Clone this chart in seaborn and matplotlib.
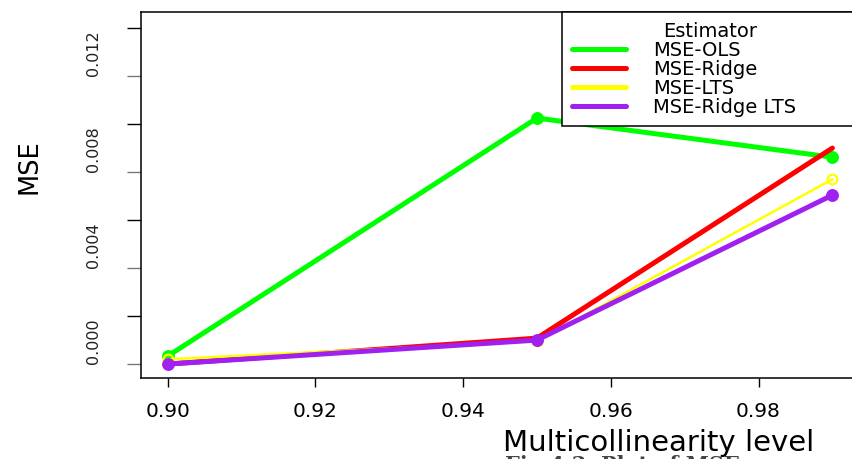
import numpy as np
import pandas as pd
import seaborn as sns
import matplotlib
matplotlib.use("Agg")
from matplotlib import pyplot as plt
from matplotlib.lines import Line2D
from matplotlib.ticker import FixedLocator

# values
levels = [0.90, 0.95, 0.99]
mse_ols = [0.00033, 0.01025, 0.00862]
mse_ridge = [0.00000, 0.00108, 0.00900]
mse_lts = [0.00020, 0.00095, 0.00770]
mse_ridge_lts = [0.00000, 0.00100, 0.00704]

names = ["MSE-OLS", "MSE-Ridge", "MSE-LTS", "MSE-Ridge LTS"]
colors = ["#00FF00", "#FF0000", "#FFFF00", "#A020F0"]

df = pd.DataFrame({
    "level": levels * 4,
    "mse": mse_ols + mse_ridge + mse_lts + mse_ridge_lts,
    "Estimator": np.repeat(names, len(levels)),
})

sns.set_style("white")
plt.rcParams["font.family"] = ["DejaVu Sans"]
plt.rcParams["text.color"] = "black"
plt.rcParams["axes.labelcolor"] = "black"
plt.rcParams["xtick.color"] = "black"
plt.rcParams["ytick.color"] = "black"

fig = plt.figure(figsize=(8.52, 4.59), dpi=100)
ax = fig.add_axes([141 / 852, 81 / 459, 718 / 852, 366 / 459])

# line styles per estimator
styles = {
    "MSE-OLS": dict(lw=3.6, marker="o", ms=8.5, mec="#00FF00", mfc="#00FF00"),
    "MSE-Ridge": dict(lw=3.6, marker=None),
    "MSE-LTS": dict(lw=1.8, marker="o", ms=7, mfc="none", mec="#FFFF00", mew=1.6),
    "MSE-Ridge LTS": dict(lw=3.6, marker="o", ms=8.5, mec="#A020F0", mfc="#A020F0"),
}
for name, col in zip(names, colors):
    sub = df[df["Estimator"] == name]
    sns.lineplot(data=sub, x="level", y="mse", color=col, ax=ax,
                 legend=False, **styles[name])

ax.set_xlim(0.8964, 0.9936)
ax.set_ylim(-0.00058, 0.01467)

ax.xaxis.set_major_locator(FixedLocator([0.90, 0.92, 0.94, 0.96, 0.98]))
ax.set_xticklabels(["0.90", "0.92", "0.94", "0.96", "0.98"])
ax.yaxis.set_major_locator(FixedLocator([0.000, 0.004, 0.008, 0.012]))
ax.set_yticklabels(["0.000", "0.004", "0.008", "0.012"])
ax.yaxis.set_minor_locator(FixedLocator([0.002, 0.006, 0.010, 0.014]))

ax.tick_params(axis="x", which="major", direction="out", length=6.5, width=1,
               color="black", labelcolor="black", labelsize=14.5, pad=11,
               bottom=True)
ax.tick_params(axis="y", which="major", direction="out", length=10, width=1,
               color="#777777", labelcolor="#222222", labelsize=11.5, pad=19,
               left=True)
ax.tick_params(axis="y", which="minor", direction="out", length=10, width=1,
               color="black", left=True)
for lab in ax.get_yticklabels():
    lab.set_rotation(90)
    lab.set_va("bottom")

for side in ["left", "bottom", "top", "right"]:
    ax.spines[side].set_visible(True)
    ax.spines[side].set_color("black")
    ax.spines[side].set_linewidth(1.1)

ax.set_xlabel("")
ax.set_ylabel("MSE", fontsize=18.5)
ax.yaxis.set_label_coords(-0.1365, 0.577)

fig.text(503 / 852, 1 - 451 / 459, "Multicollinearity level", fontsize=21,
         ha="left", va="baseline")
fig.text(505 / 852, 1 - 455 / 459, "Fig 4.3: Plot of MSE versus multicollinearity",
         fontsize=15, fontweight="bold", family="DejaVu Serif", color="#444444",
         ha="left", va="top")

handles = [Line2D([0], [0], color=c, lw=3.6) for c in colors]
leg = ax.legend(handles, names, title="Estimator", loc="upper left",
                bbox_to_anchor=(0.5864, 0, 0.4136, 1), mode="expand",
                borderaxespad=0, fontsize=14, title_fontsize=14,
                frameon=True, fancybox=False, framealpha=1, edgecolor="black",
                borderpad=0.5, labelspacing=0.0, handlelength=2.8,
                handletextpad=1.4)
leg.get_frame().set_linewidth(1.1)

fig.savefig("out.png", dpi=100)
